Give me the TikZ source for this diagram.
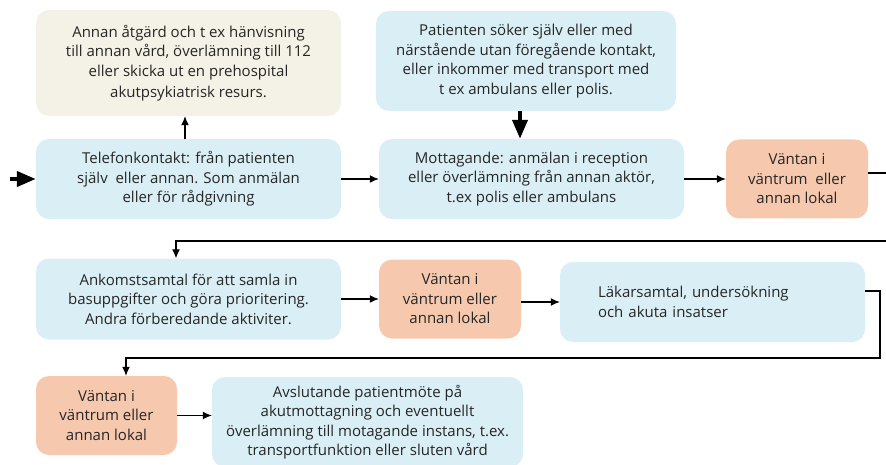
\documentclass[tikz,border=0pt]{standalone}
\usepackage{fontspec}
\setmainfont{Open Sans}
\usetikzlibrary{arrows.meta}
\definecolor{flowBlue}{HTML}{DAEEF5}
\definecolor{flowBeige}{HTML}{F4F1E6}
\definecolor{flowOrange}{HTML}{F6C9AE}
\begin{document}
\begin{tikzpicture}
[x=1pt,y=-1pt,
  boxDecorate/.style={shape=rectangle,rounded corners=13pt,fill=flowBlue,align=center,
    inner sep=1pt,text=black!85,font=\fontsize{15}{19.5}\selectfont},%
  blueBox/.style={boxDecorate,minimum width=305pt,minimum height=80pt},%
  beigeBox/.style={boxDecorate,fill=flowBeige,minimum width=305pt,minimum height=106pt},%
  waitBox/.style={boxDecorate,fill=flowOrange,minimum width=142pt,minimum height=79pt},%
  lineDecorate/.style={-{Latex[length=9pt,width=8pt]},line width=1.1pt},%
  thickDecorate/.style={-{Triangle[length=19pt,width=15pt]},line width=4pt}]
\useasboundingbox (0,0) rectangle (886,465);
%% nodes or boxes
\node (annan) at (188.5,63) [beigeBox] {Annan åtgärd och t ex hänvisning\\till annan vård, överlämning till 112\\eller skicka ut en prehospital\\[2pt]akutpsykiatrisk resurs.};
\node (tel) at (188.5,179) [blueBox] {Telefonkontakt: från patienten\\själv\ \ eller annan. Som anmälan\\eller för rådgivning};
\node (pat) at (526,61) [blueBox,minimum width=300pt,minimum height=100pt] {Patienten söker själv eller med\\närstående utan föregående kontakt,\\eller inkommer med transport med\\t ex ambulans eller polis.};
\node (mott) at (531.5,179) [blueBox] {Mottagande: anmälan i reception\\eller överlämning från annan aktör,\\t.ex polis eller ambulans};
\node (vant1) at (797,179) [waitBox] {Väntan i\\väntrum\ \ eller\\annan lokal};
\node (ank) at (188.5,299) [blueBox,minimum height=81pt] {Ankomstsamtal för att samla in\\basuppgifter och göra prioritering.\\Andra förberedande aktiviter.};
\node (vant2) at (450,299) [waitBox] {Väntan i\\väntrum eller\\annan lokal};
\node (lak) at (712.5,302) [blueBox,align=left,text width=229pt] {Läkarsamtal, undersökning\\och akuta insatser};
\node (vant3) at (106.5,415.5) [waitBox,minimum width=141pt] {Väntan i\\väntrum eller\\annan lokal};
\node (avs) at (367.5,422) [blueBox,minimum width=311pt,minimum height=90pt] {Avslutande patientmöte på\\akutmottagning och eventuellt\\överlämning till motagande instans, t.ex.\\transportfunktion eller sluten vård};
%% entry points
\coordinate (start) at (10,179);
%% edges or lines
\draw[thickDecorate] (start) -- (tel.west);
\draw[thickDecorate] (pat.south -| 520,0) -- (mott.north -| 520,0);
\draw[lineDecorate] (tel.north -| 185,0) -- (annan.south -| 185,0);
\path
\foreach \startnode/\endnode in {tel/mott, mott/vant1, ank/vant2} {
  (\startnode) edge[lineDecorate] (\endnode)
};
\draw[lineDecorate] (vant2.east |- lak.west) -- (lak.west);
\draw[lineDecorate] (vant3.east) -- (avs.west |- vant3.east);
\draw[lineDecorate] ([yshift=6pt]vant1.east) -- (900,173) -- (900,241) -| (ank.north -| 176,0);
\draw[lineDecorate] ([yshift=11pt]lak.east) -| (880,358) -| (vant3.north -| 126,0);
\end{tikzpicture}
\end{document}
